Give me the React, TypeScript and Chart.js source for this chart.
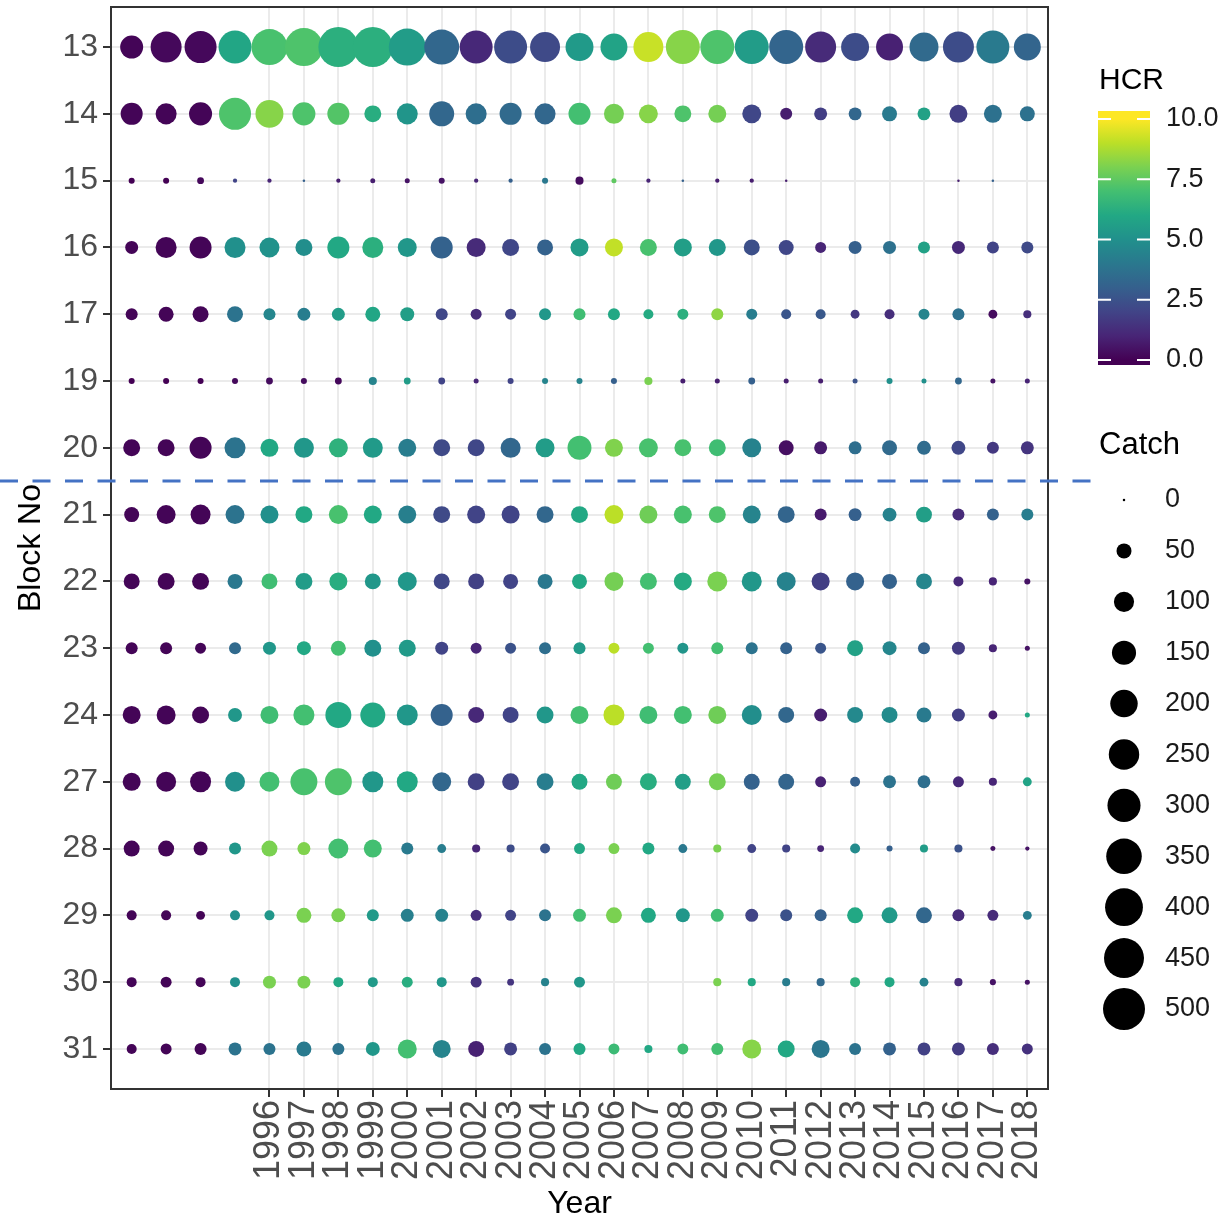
import React, { useEffect, useRef } from "react";
import { Chart, registerables } from "chart.js";

Chart.register(...registerables);

// ---- categories ----
const years = [
  "", "", "", "",
  "1996", "1997", "1998", "1999", "2000", "2001", "2002", "2003", "2004", "2005",
  "2006", "2007", "2008", "2009", "2010", "2011", "2012", "2013", "2014", "2015",
  "2016", "2017", "2018",
];
const blocks = ["13", "14", "15", "16", "17", "19", "20", "21", "22", "23", "24", "27", "28", "29", "30", "31"];

// ---- catch per block (one value per year column, null = no record) ----
const catch13 = [135, 260, 279, 298, 360, 404, 451, 451, 381, 338, 298, 298, 242, 208, 192, 242, 318, 318, 318, 318, 260, 208, 192, 225, 260, 298, 192];
const catch14 = [122, 110, 135, 279, 208, 135, 122, 67, 110, 162, 110, 122, 110, 122, 98, 87, 67, 77, 87, 29, 35, 35, 50, 35, 77, 77, 50];
const catch15 = [4, 4, 6, 1, 1, 0, 1, 2, 2, 4, 1, 1, 4, 10, 2, 1, 0, 1, 1, 0, null, null, null, null, 0, 0, null];
const catch16 = [35, 110, 122, 110, 98, 67, 122, 110, 87, 122, 87, 67, 58, 77, 77, 67, 77, 67, 58, 50, 23, 35, 35, 29, 35, 29, 29];
const catch17 = [29, 50, 58, 58, 29, 35, 35, 50, 42, 29, 23, 23, 29, 29, 29, 18, 23, 29, 23, 18, 18, 13, 18, 23, 29, 13, 10];
const catch19 = [4, 4, 4, 4, 6, 4, 6, 10, 6, 6, 2, 4, 4, 4, 4, 10, 2, 2, 6, 2, 2, 2, 4, 2, 6, 2, 2];
const catch20 = [67, 67, 122, 110, 77, 98, 87, 98, 77, 67, 67, 98, 87, 148, 77, 87, 67, 67, 87, 50, 35, 35, 50, 42, 42, 29, 35];
const catch21 = [50, 87, 98, 87, 77, 67, 87, 77, 77, 67, 77, 77, 67, 67, 87, 77, 77, 67, 77, 67, 29, 35, 42, 58, 29, 29, 29];
const catch22 = [58, 67, 67, 50, 58, 67, 77, 58, 87, 58, 58, 50, 50, 50, 87, 67, 77, 98, 98, 87, 77, 77, 50, 58, 18, 10, 4];
const catch23 = [29, 29, 23, 29, 35, 42, 50, 67, 67, 35, 23, 23, 29, 29, 23, 23, 23, 29, 29, 29, 23, 58, 42, 29, 35, 10, 2];
const catch24 = [77, 87, 67, 42, 77, 110, 177, 162, 110, 122, 58, 58, 67, 77, 110, 77, 77, 77, 98, 58, 35, 58, 58, 50, 35, 13, 2];
const catch27 = [77, 98, 110, 98, 98, 192, 192, 110, 110, 87, 67, 67, 67, 58, 58, 67, 58, 67, 58, 58, 23, 18, 35, 35, 23, 10, 13];
const catch28 = [58, 58, 42, 29, 58, 35, 98, 77, 29, 13, 10, 10, 18, 23, 23, 29, 13, 10, 13, 10, 6, 18, 4, 10, 10, 2, 1];
const catch29 = [18, 18, 13, 18, 18, 50, 42, 29, 35, 35, 23, 23, 29, 35, 58, 50, 42, 35, 35, 29, 29, 58, 58, 58, 29, 23, 13];
const catch30 = [18, 23, 18, 18, 35, 35, 18, 18, 23, 18, 23, 6, 10, 23, null, null, null, 10, 10, 10, 10, 18, 18, 13, 10, 4, 2];
const catch31 = [18, 23, 29, 35, 29, 50, 29, 42, 87, 77, 58, 35, 29, 29, 23, 10, 23, 29, 87, 67, 77, 29, 35, 35, 35, 29, 23];

// ---- HCR per block ----
const hcr13 = [0.1, 0.2, 0.2, 5.9, 7.1, 7.2, 6.3, 6.3, 5.5, 3.3, 1.1, 2.3, 2.2, 5.4, 5.8, 9.2, 8.2, 7.2, 5.5, 3.2, 1.2, 2.3, 0.9, 3.4, 2.3, 4.1, 3.2];
const hcr14 = [0.1, 0.1, 0.1, 7.2, 8.2, 7.2, 7.3, 6.2, 5.2, 3.3, 3.6, 3.4, 3.3, 7.0, 7.9, 8.2, 7.2, 7.9, 2.1, 0.8, 1.8, 3.3, 4.1, 5.7, 1.8, 3.7, 3.7];
const hcr15 = [0, 0, 0.2, 2, 1, 3, 0.8, 0.8, 0.5, 0.5, 1, 3, 4, 0.3, 7.5, 1, 3, 0.8, 0.8, 0.8, null, null, null, null, 0.8, 3, null];
const hcr16 = [0.1, 0.1, 0.1, 5, 5.1, 4.9, 6, 6.3, 5.3, 3.1, 1.2, 2.1, 3.1, 5.5, 9.1, 7.1, 5.6, 5.3, 2.4, 2.1, 1, 3, 3.7, 5.7, 1.1, 2, 2.2];
const hcr17 = [0.1, 0.1, 0.1, 3.8, 4.6, 4.2, 5.5, 5.9, 5.6, 2.1, 1.2, 2, 5.3, 6.9, 6, 6.1, 6.3, 8.3, 4.2, 2.6, 2.7, 1.6, 1.3, 4.5, 3.7, 0.3, 1.3];
const hcr19 = [0, 0, 0, 0.2, 0.3, 0.3, 0.2, 4.5, 5.5, 2, 1, 2, 4.5, 4.5, 3, 8, 0.8, 0.8, 3, 0.8, 0.8, 2.5, 5, 5, 3.3, 0.5, 1];
const hcr20 = [0.1, 0.1, 0.1, 3.8, 6, 5.3, 6.4, 5.4, 4.2, 2.2, 2.1, 3.3, 5.5, 7, 8.1, 7.1, 7.1, 6.9, 4.4, 0.4, 0.7, 3.6, 3.4, 3.5, 2.1, 1.6, 1.5];
const hcr21 = [0.1, 0.1, 0.1, 3.8, 5, 6, 7.1, 6, 4.3, 2.2, 2, 2, 3.3, 6, 9, 7.8, 7.1, 7.2, 4.5, 3.2, 0.7, 3, 4.4, 5.6, 1.2, 3.1, 4.2];
const hcr22 = [0.1, 0.1, 0.1, 4, 6.9, 5.5, 6.2, 5.3, 5.3, 2.1, 1.9, 2, 4, 6, 7.9, 7, 6.1, 8, 5.3, 4.4, 1.8, 3.1, 3.1, 4.6, 1.1, 1, 0.5];
const hcr23 = [0.1, 0.1, 0.1, 3.4, 5.3, 6, 7, 5, 5.4, 2, 1, 2.5, 3.6, 5.4, 9, 7, 5.2, 7, 3.8, 3.1, 2.6, 5.7, 4.6, 3.1, 1.7, 1, 0.5];
const hcr24 = [0.1, 0.1, 0.1, 5.3, 6.9, 7, 6, 6, 5.3, 3.1, 1.1, 2, 5.3, 7, 9, 6.9, 7, 7.8, 4.9, 3.3, 0.8, 4.7, 4.8, 4.1, 1.8, 0.8, 6];
const hcr27 = [0.1, 0.1, 0.1, 5, 7, 7.1, 7.2, 5.3, 6, 3.3, 1.9, 2, 4.2, 6, 7.8, 6.2, 5.6, 7.9, 3.1, 3.2, 0.9, 3, 3.8, 3.6, 1.1, 1, 5.8];
const hcr28 = [0.1, 0.1, 0.1, 5.3, 8, 8.1, 7, 7, 4.1, 4.2, 1, 2.3, 2.6, 6, 8, 6, 4, 8, 2, 2, 1, 4.8, 3, 5.5, 2.5, 0.5, 0.5];
const hcr29 = [0.1, 0.1, 0.1, 5, 5.3, 8, 8, 5.4, 4.3, 4.4, 1.3, 2, 3.8, 7, 8, 6, 5.3, 6.9, 2, 2.5, 3, 6, 5.4, 3.3, 1.2, 1.2, 4.2];
const hcr30 = [0.1, 0.1, 0.1, 5, 8, 8, 6, 5.4, 6.2, 5.3, 1.4, 1.5, 4.4, 5.3, null, null, null, 8, 6, 4.2, 3.4, 6.4, 6, 4.4, 1.2, 0.5, 0.5];
const hcr31 = [0.1, 0.1, 0.1, 3.8, 3.8, 4.1, 3.8, 5.3, 7, 4.5, 0.9, 1.9, 3.8, 6, 6.8, 6, 6.9, 7, 8.2, 6, 3.9, 3.8, 3.1, 1.9, 1.7, 1.3, 1.4];

const catchRows = [catch13, catch14, catch15, catch16, catch17, catch19, catch20, catch21, catch22, catch23, catch24, catch27, catch28, catch29, catch30, catch31];
const hcrRows = [hcr13, hcr14, hcr15, hcr16, hcr17, hcr19, hcr20, hcr21, hcr22, hcr23, hcr24, hcr27, hcr28, hcr29, hcr30, hcr31];

// ---- legend ticks ----
const hcrTicks = [0, 2.5, 5, 7.5, 10];
const catchBreaks = [0, 50, 100, 150, 200, 250, 300, 350, 400, 450, 500];

const VIRIDIS = ["#440154", "#482576", "#414487", "#35608D", "#2A788E", "#21908C", "#22A884", "#43BF71", "#7AD151", "#BBDF27", "#FDE725"];

function hexToRgb(h: string) {
  return [parseInt(h.slice(1, 3), 16), parseInt(h.slice(3, 5), 16), parseInt(h.slice(5, 7), 16)];
}
function viridis(v: number) {
  const t = Math.max(0, Math.min(1, v / 10)) * 10;
  const i = Math.min(9, Math.floor(t));
  const f = t - i;
  const a = hexToRgb(VIRIDIS[i]);
  const b = hexToRgb(VIRIDIS[i + 1]);
  const c = a.map((x, k) => Math.round(x + (b[k] - x) * f));
  return `rgb(${c[0]},${c[1]},${c[2]})`;
}
function sizeRadius(c: number) {
  return (2.5 + 39.5 * Math.sqrt(Math.max(0, c) / 500)) / 2;
}

const FONT = "'Liberation Sans', Arial, sans-serif";

export default function App() {
  const ref = useRef<HTMLCanvasElement | null>(null);

  useEffect(() => {
    if (!ref.current) return;
    const points: any[] = [];
    for (let j = 0; j < years.length; j++) {
      for (let i = 0; i < blocks.length; i++) {
        const c = catchRows[i][j];
        const h = hcrRows[i][j];
        if (c === null || c === undefined) continue;
        points.push({ x: j, y: i, r: sizeRadius(c as number), hcr: h });
      }
    }

    const decor = {
      id: "decor",
      afterDatasetsDraw(chart: any) {
        const { ctx, chartArea } = chart;
        ctx.save();
        ctx.strokeStyle = "#333333";
        ctx.lineWidth = 2;
        ctx.strokeRect(chartArea.left, chartArea.top, chartArea.right - chartArea.left, chartArea.bottom - chartArea.top);
        ctx.restore();
      },
      afterDraw(chart: any) {
        const { ctx } = chart;
        ctx.save();
        // HCR colourbar
        ctx.fillStyle = "#000";
        ctx.font = `30px ${FONT}`;
        ctx.textAlign = "left";
        ctx.textBaseline = "middle";
        ctx.fillText("HCR", 1099, 81);
        const yFor = (v: number) => 360 - v * 24.1;
        const g = ctx.createLinearGradient(0, yFor(0), 0, yFor(10));
        for (let k = 0; k <= 10; k++) g.addColorStop(k / 10, VIRIDIS[k]);
        ctx.fillStyle = g;
        ctx.fillRect(1098, 111, 52, 254);
        ctx.strokeStyle = "#ffffff";
        ctx.lineWidth = 2;
        ctx.font = `27px ${FONT}`;
        ctx.fillStyle = "#1a1a1a";
        hcrTicks.forEach((v) => {
          const y = yFor(v);
          ctx.beginPath();
          ctx.moveTo(1098, y);
          ctx.lineTo(1111, y);
          ctx.moveTo(1137, y);
          ctx.lineTo(1150, y);
          ctx.stroke();
          ctx.fillText(v.toFixed(1), 1166, y);
        });
        // Catch size legend
        ctx.fillStyle = "#000";
        ctx.font = `31px ${FONT}`;
        ctx.fillText("Catch", 1099, 445);
        ctx.font = `27px ${FONT}`;
        catchBreaks.forEach((c, k) => {
          const y = 500 + k * 50.9;
          ctx.fillStyle = "#000";
          ctx.beginPath();
          ctx.arc(1124, y, sizeRadius(c), 0, Math.PI * 2);
          ctx.fill();
          ctx.fillStyle = "#1a1a1a";
          ctx.fillText(String(c), 1165, y);
        });
        // dashed separator
        ctx.strokeStyle = "#4472C4";
        ctx.lineWidth = 3;
        ctx.setLineDash([18, 14.5]);
        ctx.beginPath();
        ctx.moveTo(0, 481);
        ctx.lineTo(1100, 481);
        ctx.stroke();
        ctx.restore();
      },
    };

    const chart = new Chart(ref.current, {
      type: "bubble",
      data: {
        datasets: [
          {
            data: points,
            backgroundColor: (c: any) => viridis(c.raw ? c.raw.hcr : 0),
            borderWidth: 0,
            hoverBorderWidth: 0,
          } as any,
        ],
      },
      options: {
        responsive: false,
        animation: false,
        devicePixelRatio: 1,
        events: [],
        layout: { autoPadding: false, padding: { left: 0, top: 7, right: 172, bottom: 0 } },
        plugins: { legend: { display: false }, tooltip: { enabled: false } },
        scales: {
          x: {
            type: "linear",
            min: -0.6,
            max: 26.6,
            afterBuildTicks: (s: any) => {
              s.ticks = years.map((y, i) => (y ? { value: i } : null)).filter(Boolean);
            },
            afterFit: (s: any) => {
              s.height = 129;
              s.paddingLeft = 0;
              s.paddingRight = 0;
            },
            ticks: {
              autoSkip: false,
              minRotation: 90,
              maxRotation: 90,
              padding: 3,
              color: "#4d4d4d",
              font: { family: FONT, size: 36 },
              callback: (v: any) => years[Math.round(v)] ?? "",
            },
            grid: { color: "#ebebeb", lineWidth: 2, tickColor: "#333333", tickLength: 8, tickWidth: 2 },
            border: { display: false },
            title: {
              display: true,
              text: "Year",
              color: "#000",
              font: { family: FONT, size: 32, lineHeight: 1 },
              padding: { top: 0, bottom: -2 },
            },
          },
          y: {
            type: "linear",
            reverse: true,
            min: -0.6,
            max: 15.6,
            afterBuildTicks: (s: any) => {
              s.ticks = blocks.map((_, i) => ({ value: i }));
            },
            afterFit: (s: any) => {
              s.width = 111;
              s.paddingTop = 0;
              s.paddingBottom = 0;
            },
            ticks: {
              autoSkip: false,
              padding: 5,
              color: "#4d4d4d",
              font: { family: FONT, size: 32 },
              callback: (v: any) => blocks[Math.round(v)] ?? "",
            },
            grid: { color: "#ebebeb", lineWidth: 2, tickColor: "#333333", tickLength: 8, tickWidth: 2 },
            border: { display: false },
            title: {
              display: true,
              text: "Block No",
              color: "#000",
              font: { family: FONT, size: 32, lineHeight: 1 },
              padding: { top: 15, bottom: 0 },
            },
          },
        },
      },
      plugins: [decor],
    } as any);
    return () => chart.destroy();
  }, []);

  return (
    <div style={{ position: "fixed", left: 0, top: 0, width: 1220, height: 1218, background: "#fff" }}>
      <canvas ref={ref} width={1220} height={1218} style={{ display: "block" }} />
    </div>
  );
}
